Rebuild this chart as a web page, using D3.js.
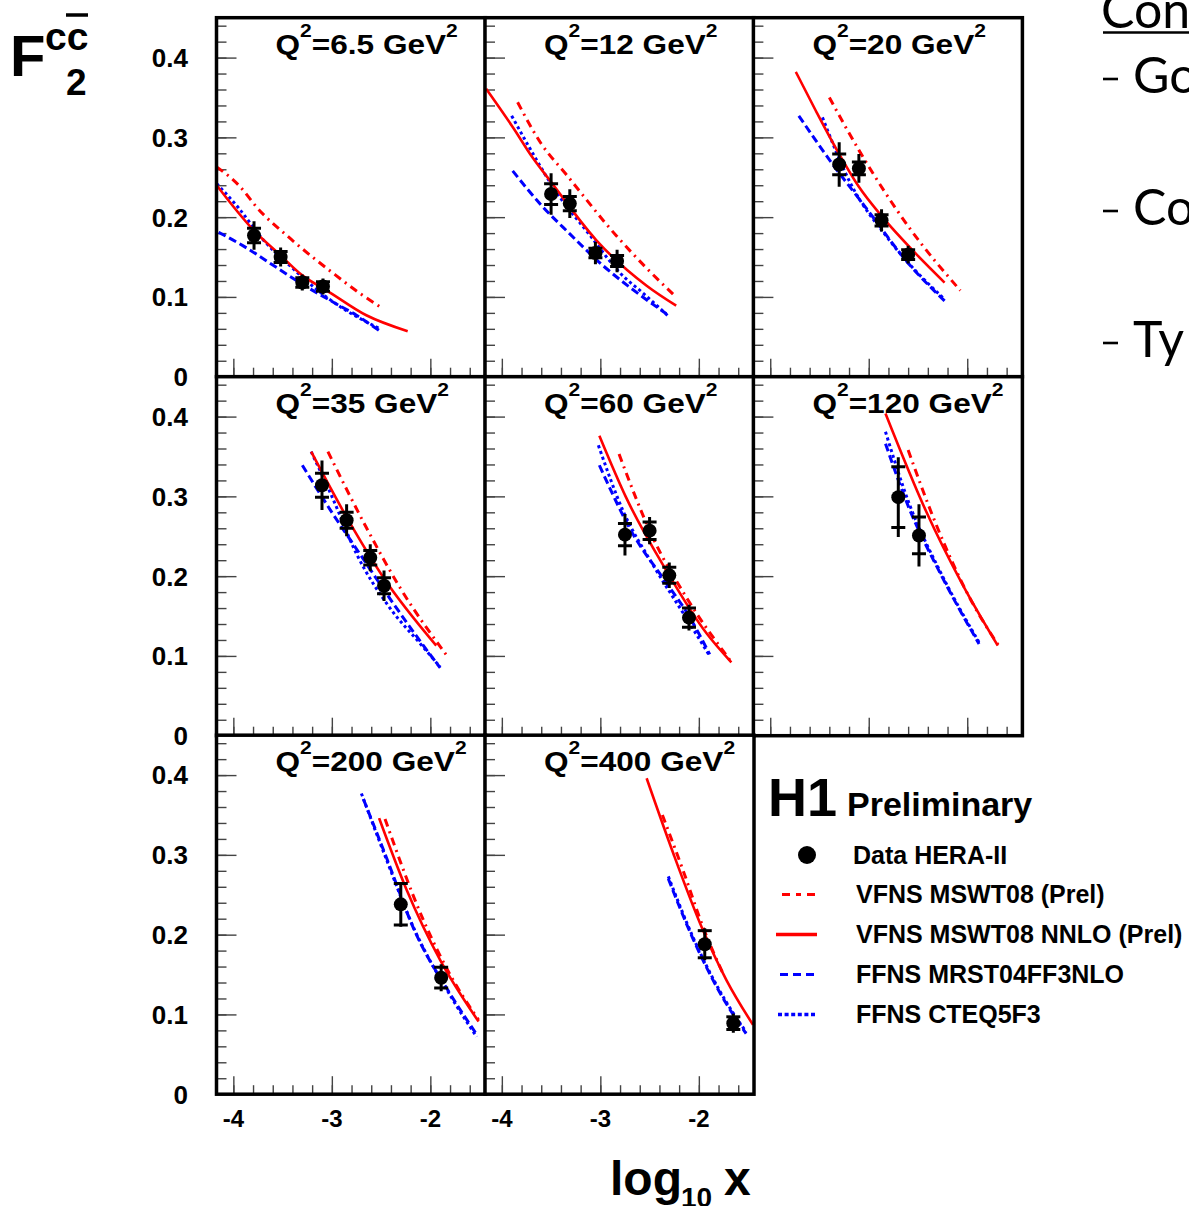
<!DOCTYPE html>
<html><head><meta charset="utf-8">
<script src="https://cdn.jsdelivr.net/npm/d3@7"></script>
<style>body{margin:0;background:#fff}svg{display:block}</style>
</head><body><svg id="c" width="1189" height="1206"></svg>
<script>
// ---------------- data ----------------
const q2Labels = ["6.5","12","20","35","60","120","200","400"];
const yTickValues = [0, 0.1, 0.2, 0.3, 0.4];
const xTickValues = [-4, -3, -2];
const xDomain = [-4.171, -1.44];
const yDomain = [0, 0.45];

// H1 data points (log10 x, F2cc, stat error, total error)
const dataLogX = [[-3.79,-3.52,-3.30,-3.09],[-3.50,-3.31,-3.05,-2.83],[-3.30,-3.10,-2.87,-2.60],[-3.10,-2.85,-2.61,-2.47],[-2.75,-2.50,-2.30,-2.10],[-2.70,-2.49],[-2.30,-1.89],[-1.94,-1.65]];
const dataF2 = [[0.177,0.150,0.118,0.113],[0.229,0.217,0.155,0.145],[0.266,0.261,0.196,0.153],[0.314,0.270,0.223,0.188],[0.252,0.257,0.201,0.148],[0.299,0.251],[0.238,0.146],[0.188,0.089]];
const dataStat = [[0.009,0.007,0.006,0.006],[0.013,0.009,0.006,0.007],[0.013,0.008,0.007,0.006],[0.015,0.010,0.009,0.010],[0.014,0.011,0.010,0.012],[0.038,0.023],[0.026,0.013],[0.017,0.008]];
const dataTot = [[0.018,0.012,0.010,0.010],[0.026,0.018,0.014,0.014],[0.028,0.018,0.014,0.011],[0.031,0.020,0.017,0.019],[0.026,0.017,0.016,0.016],[0.050,0.039],[0.028,0.017],[0.020,0.012]];

// VFNS MSWT08 (Prel)
const vfnsNLO = [
 [[-4.17,0.263],[-3.93,0.238],[-3.76,0.212],[-3.42,0.173],[-2.98,0.129],[-2.71,0.104],[-2.49,0.086]],
 [[-3.84,0.344],[-3.60,0.292],[-3.35,0.254],[-2.84,0.177],[-2.53,0.136],[-2.25,0.102]],
 [[-3.40,0.350],[-3.10,0.284],[-2.59,0.187],[-2.07,0.108]],
 [[-3.04,0.356],[-2.65,0.261],[-2.31,0.186],[-1.83,0.100]],
 [[-2.81,0.353],[-2.47,0.249],[-2.13,0.174],[-1.68,0.094]],
 [[-2.60,0.358],[-2.32,0.266],[-1.98,0.174],[-1.66,0.109]],
 [[-2.46,0.345],[-2.07,0.218],[-1.80,0.150],[-1.51,0.093]],
 [[-2.37,0.350],[-2.15,0.277],[-1.95,0.207],[-1.75,0.150]]
];
// VFNS MSWT08 NNLO (Prel)
const vfnsNNLO = [
 [[-4.17,0.240],[-3.79,0.183],[-3.52,0.152],[-3.30,0.127],[-3.05,0.108],[-2.65,0.077],[-2.23,0.057]],
 [[-4.16,0.361],[-3.89,0.313],[-3.69,0.275],[-3.50,0.244],[-3.04,0.171],[-2.53,0.114],[-2.23,0.089]],
 [[-3.74,0.382],[-3.54,0.334],[-3.30,0.279],[-3.10,0.238],[-2.86,0.200],[-2.52,0.154],[-2.23,0.118]],
 [[-3.21,0.356],[-2.85,0.274],[-2.48,0.199],[-1.94,0.113]],
 [[-3.01,0.376],[-2.74,0.299],[-2.33,0.207],[-1.92,0.128],[-1.67,0.092]],
 [[-2.83,0.404],[-2.42,0.282],[-2.05,0.190],[-1.69,0.113]],
 [[-2.52,0.346],[-2.24,0.256],[-1.90,0.168],[-1.51,0.091]],
 [[-2.53,0.396],[-2.26,0.302],[-1.96,0.206],[-1.72,0.143],[-1.45,0.087]]
];
// FFNS MRST04FF3NLO
const ffnsMRST = [
 [[-4.15,0.181],[-3.90,0.164],[-3.60,0.140],[-3.30,0.116],[-2.98,0.093],[-2.75,0.077],[-2.51,0.057]],
 [[-3.89,0.258],[-3.60,0.215],[-3.31,0.179],[-2.98,0.140],[-2.70,0.112],[-2.33,0.079]],
 [[-3.71,0.327],[-3.37,0.267],[-3.03,0.212],[-2.59,0.141],[-2.23,0.095]],
 [[-3.30,0.339],[-3.00,0.280],[-2.70,0.225],[-2.40,0.170],[-2.10,0.118],[-1.90,0.085]],
 [[-3.01,0.339],[-2.67,0.253],[-2.35,0.195],[-2.10,0.150],[-1.89,0.102]],
 [[-2.83,0.366],[-2.59,0.285],[-2.28,0.205],[-1.88,0.115]],
 [[-2.68,0.370],[-2.45,0.298],[-2.16,0.205],[-1.79,0.124],[-1.53,0.075]],
 [[-2.31,0.270],[-2.06,0.195],[-1.79,0.128],[-1.52,0.076]]
];
// FFNS CTEQ5F3
const ffnsCTEQ = [
 [[-4.17,0.242],[-3.95,0.212],[-3.70,0.172],[-3.39,0.135],[-3.12,0.106],[-2.88,0.085],[-2.51,0.060]],
 [[-3.90,0.327],[-3.71,0.285],[-3.45,0.232],[-3.11,0.178],[-2.80,0.130],[-2.55,0.103],[-2.31,0.076]],
 [[-3.47,0.325],[-3.20,0.246],[-2.79,0.171],[-2.23,0.097]],
 [[-3.21,0.356],[-3.00,0.300],[-2.75,0.228],[-2.41,0.160],[-2.10,0.115],[-1.90,0.086]],
 [[-3.02,0.364],[-2.77,0.282],[-2.47,0.215],[-2.13,0.148],[-1.89,0.100]],
 [[-2.83,0.381],[-2.59,0.291],[-2.28,0.207],[-1.88,0.117]],
 [[-2.70,0.377],[-2.47,0.302],[-2.16,0.206],[-1.79,0.122],[-1.53,0.072]],
 [[-2.31,0.273],[-2.06,0.197],[-1.79,0.130],[-1.52,0.078]]
];
const legendLabels = ["Data HERA-II","VFNS MSWT08 (Prel)","VFNS MSWT08 NNLO (Prel)","FFNS MRST04FF3NLO","FFNS CTEQ5F3"];
const sideText = ["Con","Go","Co","Ty"];

// ---------------- drawing ----------------
const svg = d3.select("#c");
const FONT = "'Liberation Sans', Arial, Helvetica, sans-serif";
const colL = [216.5, 485, 753.4], rowT = [17.7, 376.7, 735.2], PW = 269, PH = 359;
const curveSets = [
  {data: vfnsNLO,  color: "#ff0000", width: 3,   dash: "8,5,2,5"},
  {data: ffnsMRST, color: "#0000ff", width: 3,   dash: "8,4"},
  {data: ffnsCTEQ, color: "#0000ff", width: 3,   dash: "3,3"},
  {data: vfnsNNLO, color: "#ff0000", width: 2.6, dash: null}
];
const defs = svg.append("defs");
const minorY = d3.range(1, 23).map(k => +(k * 0.02).toFixed(2));
const majorY = [0.1, 0.2, 0.3, 0.4];
const minorX = d3.range(0, 13).map(k => +(-4 + k * 0.2).toFixed(1));

function styleAxis(sel) {
  sel.select(".domain").remove();
  sel.selectAll("line").attr("stroke", "#444").attr("stroke-width", 1.4);
}

q2Labels.forEach((q, i) => {
  const col = i % 3, row = Math.floor(i / 3);
  const L = colL[col], T = rowT[row];
  const x = d3.scaleLinear().domain(xDomain).range([L, L + PW]);
  const y = d3.scaleLinear().domain(yDomain).range([T + PH, T]);
  const g = svg.append("g");
  defs.append("clipPath").attr("id", "clip" + i).append("rect")
    .attr("x", L).attr("y", T).attr("width", PW).attr("height", PH);

  g.append("rect").attr("x", L).attr("y", T).attr("width", PW).attr("height", PH).attr("fill", "#fff");

  // ticks
  g.append("g").attr("transform", `translate(${L},0)`)
    .call(d3.axisLeft(y).tickValues(minorY).tickSize(-10).tickFormat("")).call(styleAxis);
  g.append("g").attr("transform", `translate(${L},0)`)
    .call(d3.axisLeft(y).tickValues(majorY).tickSize(-20).tickFormat("")).call(styleAxis);
  g.append("g").attr("transform", `translate(0,${T + PH})`)
    .call(d3.axisBottom(x).tickValues(minorX).tickSize(-9).tickFormat("")).call(styleAxis);
  g.append("g").attr("transform", `translate(0,${T + PH})`)
    .call(d3.axisBottom(x).tickValues(xTickValues).tickSize(-18).tickFormat("")).call(styleAxis);

  // curves
  const cg = g.append("g").attr("clip-path", `url(#clip${i})`);
  const line = d3.line().x(d => x(d[0])).y(d => y(d[1])).curve(d3.curveMonotoneX);
  curveSets.forEach(cs => {
    cg.append("path").attr("d", line(cs.data[i])).attr("fill", "none")
      .attr("stroke", cs.color).attr("stroke-width", cs.width)
      .attr("stroke-dasharray", cs.dash);
  });

  // data points
  dataLogX[i].forEach((lx, k) => {
    const v = dataF2[i][k], s = dataStat[i][k], t = dataTot[i][k];
    const px = x(lx);
    cg.append("line").attr("x1", px).attr("x2", px).attr("y1", y(v - t)).attr("y2", y(v + t))
      .attr("stroke", "#000").attr("stroke-width", 3);
    [v - s, v + s].forEach(e => {
      cg.append("line").attr("x1", px - 7).attr("x2", px + 7).attr("y1", y(e)).attr("y2", y(e))
        .attr("stroke", "#000").attr("stroke-width", 3);
    });
    cg.append("circle").attr("cx", px).attr("cy", y(v)).attr("r", 7).attr("fill", "#000");
  });

  // title
  const tt = g.append("text").attr("transform", `translate(${L + 59},${T + 36}) scale(1.17,1)`)
    .attr("font-family", FONT).attr("font-weight", "bold").attr("font-size", 27).attr("fill", "#000");
  tt.append("tspan").text("Q");
  tt.append("tspan").attr("font-size", 18).attr("dy", -17).text("2");
  tt.append("tspan").attr("dy", 17).text("=" + q + " GeV");
  tt.append("tspan").attr("font-size", 18).attr("dy", -17).text("2");

  // y labels
  if (col === 0) {
    yTickValues.forEach(v => {
      svg.append("text").attr("x", 188).attr("y", y(v)).attr("dy", "0.36em")
        .attr("text-anchor", "end").attr("font-family", FONT).attr("font-weight", "bold")
        .attr("font-size", 26).text(v === 0 ? "0" : d3.format(".1f")(v));
    });
  }
  // x labels
  if (row === 2) {
    xTickValues.forEach(v => {
      svg.append("text").attr("x", x(v)).attr("y", 1127).attr("text-anchor", "middle")
        .attr("font-family", FONT).attr("font-weight", "bold").attr("font-size", 24).text(String(v));
    });
  }
  g.append("rect").attr("x", L).attr("y", T).attr("width", PW).attr("height", PH)
    .attr("fill", "none").attr("stroke", "#000").attr("stroke-width", 3.5);
});

// F2 cc label
svg.append("text").attr("x", 10).attr("y", 76).attr("font-family", FONT).attr("font-weight", "bold").attr("font-size", 58).text("F");
svg.append("text").attr("x", 45).attr("y", 50).attr("font-family", FONT).attr("font-weight", "bold").attr("font-size", 39).text("cc");
svg.append("line").attr("x1", 66).attr("x2", 88).attr("y1", 15).attr("y2", 15).attr("stroke", "#000").attr("stroke-width", 3.5);
svg.append("text").attr("x", 66).attr("y", 95).attr("font-family", FONT).attr("font-weight", "bold").attr("font-size", 37).text("2");

// x axis title
svg.append("text").attr("x", 610).attr("y", 1195).attr("font-family", FONT).attr("font-weight", "bold").attr("font-size", 48).text("log");
svg.append("text").attr("x", 681).attr("y", 1207).attr("font-family", FONT).attr("font-weight", "bold").attr("font-size", 28).text("10");
svg.append("text").attr("x", 724).attr("y", 1195).attr("font-family", FONT).attr("font-weight", "bold").attr("font-size", 48).text("x");

// legend
svg.append("text").attr("x", 768).attr("y", 816).attr("font-family", FONT).attr("font-weight", "bold").attr("font-size", 54).text("H1");
svg.append("text").attr("x", 847).attr("y", 816).attr("font-family", FONT).attr("font-weight", "bold").attr("font-size", 34).text("Preliminary");
const legY = [855, 894.5, 934.5, 974.5, 1014.5];
const legTextX = [853, 856, 856, 856, 856];
svg.append("circle").attr("cx", 807).attr("cy", legY[0]).attr("r", 9).attr("fill", "#000");
const legLines = [
  {x1: 782, x2: 817, color: "#ff0000", w: 3, dash: "8,6,5,6"},
  {x1: 776, x2: 817, color: "#ff0000", w: 3.5, dash: null},
  {x1: 780, x2: 817, color: "#0000ff", w: 3, dash: "8,5"},
  {x1: 778, x2: 817, color: "#0000ff", w: 3.5, dash: "4,2.6"}
];
legLines.forEach((l, k) => {
  svg.append("line").attr("x1", l.x1).attr("x2", l.x2).attr("y1", legY[k + 1]).attr("y2", legY[k + 1])
    .attr("stroke", l.color).attr("stroke-width", l.w).attr("stroke-dasharray", l.dash);
});
legendLabels.forEach((t, k) => {
  svg.append("text").attr("x", legTextX[k]).attr("y", legY[k] + 8.5).attr("font-family", FONT)
    .attr("font-weight", "bold").attr("font-size", 25).text(t);
});

// cut-off slide text on the right
const SF = "Lato, 'Open Sans', sans-serif";
svg.append("text").attr("x", 1101).attr("y", 28).attr("font-family", SF).attr("font-size", 50).text(sideText[0]);
svg.append("line").attr("x1", 1103).attr("x2", 1189).attr("y1", 32.5).attr("y2", 32.5).attr("stroke", "#000").attr("stroke-width", 2.6);
[[93, sideText[1]], [225, sideText[2]], [357, sideText[3]]].forEach(([by, t]) => {
  svg.append("line").attr("x1", 1103).attr("x2", 1118).attr("y1", by - 14).attr("y2", by - 14).attr("stroke", "#000").attr("stroke-width", 2.6);
  svg.append("text").attr("x", 1133).attr("y", by).attr("font-family", SF).attr("font-size", 50).text(t);
});
</script></body></html>
